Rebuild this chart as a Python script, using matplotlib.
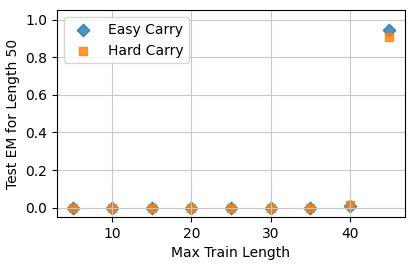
import numpy as np
import matplotlib.pyplot as plt

max_train_len = [5, 10, 15, 20, 25, 30, 35, 40, 45]
easy_carry = [0.0, 0.0, 0.0, 0.0, 0.0, 0.0, 0.0, 0.01, 0.945]
hard_carry = [0.0, 0.0, 0.0, 0.0, 0.0, 0.0, 0.0, 0.015, 0.905]

fig, ax = plt.subplots(figsize=(4.15, 2.66), dpi=100)
ax.scatter(max_train_len, easy_carry, marker='D', s=40, color='tab:blue', alpha=0.8, label='Easy Carry')
ax.scatter(max_train_len, hard_carry, marker='s', s=40, color='tab:orange', alpha=0.8, label='Hard Carry')
ax.set_ylim(-0.05, 1.05)
ax.set_xlabel('Max Train Length')
ax.set_ylabel('Test EM for Length 50')
ax.grid(True, color='#c8c8c8')
ax.legend(loc='upper left')
fig.subplots_adjust(left=0.137, right=0.976, top=0.962, bottom=0.184)
fig.savefig('out.png')
